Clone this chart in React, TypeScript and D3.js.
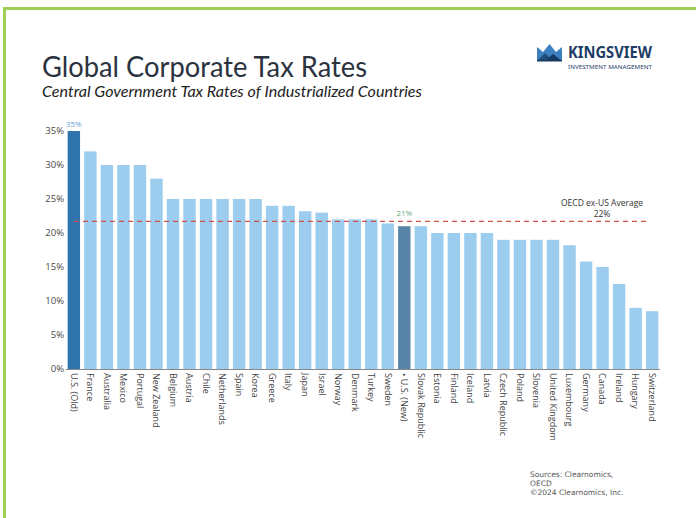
import React from "react";
import * as d3 from "d3";

const countries = [
  "U.S. (Old)", "France", "Australia", "Mexico", "Portugal", "New Zealand", "Belgium", "Austria",
  "Chile", "Netherlands", "Spain", "Korea", "Greece", "Italy", "Japan", "Israel", "Norway",
  "Denmark", "Turkey", "Sweden", "• U.S. (New)", "Slovak Republic", "Estonia", "Finland",
  "Iceland", "Latvia", "Czech Republic", "Poland", "Slovenia", "United Kingdom", "Luxembourg",
  "Germany", "Canada", "Ireland", "Hungary", "Switzerland",
];
const rates = [
  35, 32, 30, 30, 30, 28, 25, 25, 25, 25, 25, 25, 24, 24, 23.2, 23, 22, 22, 22, 21.4, 21, 21,
  20, 20, 20, 20, 19, 19, 19, 19, 18.2, 15.8, 15, 12.5, 9, 8.5,
];
const yTicks = [0, 5, 10, 15, 20, 25, 30, 35];
const oecdAverage = 21.7;

const W = 696;
const H = 518;

export default function App() {
  const x = d3.scaleBand<string>().domain(countries).range([66, 660]).paddingInner(0.25).paddingOuter(0.1);
  const y = d3.scaleLinear().domain([0, 35]).range([369, 131]);
  const bw = x.bandwidth();
  const font = "'Open Sans', sans-serif";

  const colorFor = (c: string) =>
    c === "U.S. (Old)" ? "#2f74ad" : c === "• U.S. (New)" ? "#5884a9" : "#9dcdee";

  const xOld = (x("U.S. (Old)") ?? 0) + bw / 2;
  const xNew = (x("• U.S. (New)") ?? 0) + bw / 2;

  return (
    <svg width={W} height={H} style={{ position: "absolute", left: 0, top: 0, background: "#fff" }}>
      {/* border */}
      <rect x={3} y={7} width={W} height={3} fill="#9fd055" />
      <rect x={3} y={7} width={3} height={H} fill="#9fd055" />

      {/* title */}
      <text x={42} y={77} fontFamily="Lato, sans-serif" fontSize={28} fill="#2b3340" textLength={325} lengthAdjust="spacingAndGlyphs">
        Global Corporate Tax Rates
      </text>
      <text x={42} y={97} fontFamily="Lato, sans-serif" fontStyle="italic" fontSize={16} fill="#222" textLength={380} lengthAdjust="spacingAndGlyphs">
        Central Government Tax Rates of Industrialized Countries
      </text>

      {/* logo */}
      <g>
        <polygon points="537,47 543,52 549.5,44 556,52 562,47 562,61 537,61" fill="#3d80c0" />
        <polygon points="537,61 545,53 553,61" fill="#1f4e7c" />
        <polygon points="545,61 553,54 562,61" fill="#173b60" />
        <rect x={537} y={60} width={25} height={1.5} fill="#173b60" />
        <text x={568} y={58} fontFamily="'Noto Sans', sans-serif" fontWeight={700} fontSize={16.5} fill="#1d3d66" textLength={84} lengthAdjust="spacingAndGlyphs">
          KINGSVIEW
        </text>
        <text x={568} y={68.5} fontFamily="'Noto Sans', sans-serif" fontSize={5} fill="#1d3d66" textLength={84} lengthAdjust="spacingAndGlyphs">
          INVESTMENT MANAGEMENT
        </text>
      </g>

      {/* y ticks */}
      {yTicks.map((t) => (
        <text key={t} x={64} y={y(t)} dy="0.35em" textAnchor="end" fontFamily={font} fontSize={9.5} fill="#4a4a4a">
          {t}%
        </text>
      ))}

      {/* bars */}
      {countries.map((c, i) => (
        <rect key={c} x={x(c)} y={y(rates[i])} width={bw} height={y(0) - y(rates[i])} fill={colorFor(c)} />
      ))}

      {/* axis */}
      <line x1={66} x2={660} y1={369.5} y2={369.5} stroke="#888" strokeWidth={1} />

      {/* average line */}
      <line x1={74} x2={649} y1={y(oecdAverage)} y2={y(oecdAverage)} stroke="#d0504a" strokeWidth={1.3} strokeDasharray="5,4" />
      <text x={602} y={206} textAnchor="middle" fontFamily={font} fontSize={8.5} fill="#333">
        OECD ex-US Average
      </text>
      <text x={602} y={217} textAnchor="middle" fontFamily={font} fontSize={8.5} fill="#333">
        22%
      </text>

      {/* value labels */}
      <text x={xOld} y={y(35) - 4} textAnchor="middle" fontFamily={font} fontSize={8} fill="#6a9fd0">
        35%
      </text>
      <text x={xNew} y={y(21) - 10} textAnchor="middle" fontFamily={font} fontSize={8} fill="#6aaa80">
        21%
      </text>

      {/* x labels */}
      {countries.map((c) => {
        const cx = (x(c) ?? 0) + bw / 2;
        return (
          <text key={c} transform={`translate(${cx},373) rotate(90)`} dy="0.35em" fontFamily={font} fontSize={9} fill="#444">
            {c}
          </text>
        );
      })}

      {/* sources */}
      <g fontFamily="'DejaVu Sans', sans-serif" fontSize={7.5} fill="#555">
        <text x={530} y={477}>Sources: Clearnomics,</text>
        <text x={530} y={486}>OECD</text>
        <text x={530} y={495}>©2024 Clearnomics, Inc.</text>
      </g>
    </svg>
  );
}
